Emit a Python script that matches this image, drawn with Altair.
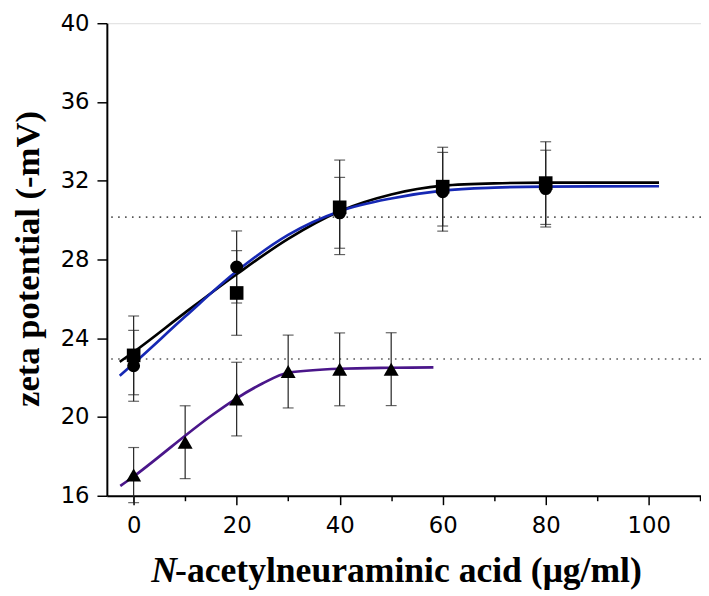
import altair as alt
import pandas as pd

# ---- data ----
conc_main = [0, 20, 40, 60, 80]
zeta_square = [23.13, 26.3, 30.65, 31.7, 31.88]
err_square = [2.0, 2.15, 2.4, 2.0, 2.1]
zeta_circle = [22.6, 27.62, 30.37, 31.44, 31.6]
err_circle = [1.8, 1.83, 1.8, 2.0, 1.95]

conc_tri = [0, 10, 20, 30, 40, 50]
zeta_tri = [17.05, 18.72, 20.91, 22.31, 22.42, 22.43]
err_tri = [1.4, 1.85, 1.87, 1.85, 1.85, 1.85]

fit_x_black = [-2.7, 0, 10, 20, 30, 40, 50, 60, 70, 80, 102]
fit_black = [22.8, 23.3, 25.3, 27.25, 29.05, 30.45, 31.3, 31.75, 31.87, 31.9, 31.9]

fit_x_blue = [-2.7, 0, 10, 20, 30, 40, 50, 60, 70, 80, 102]
fit_blue = [22.1, 22.72, 25.1, 27.4, 29.25, 30.45, 31.1, 31.5, 31.65, 31.7, 31.72]

fit_x_purple = [-2.6, 0, 5, 10, 15, 20, 25, 30, 40, 50, 58.2]
fit_purple = [16.5, 16.98, 18.0, 19.05, 20.05, 20.95, 21.7, 22.25, 22.45, 22.5, 22.52]

ref_levels = [30.15, 22.95]

x_ticks = [0, 10, 20, 30, 40, 50, 60, 70, 80, 90, 100, 110]
y_ticks = [16, 18, 20, 22, 24, 26, 28, 30, 32, 34, 36, 38, 40]

y_title = "zeta potential (-mV)"
x_title_italic = ["N"]
x_title_rest = ["-acetylneuraminic acid (\u03bcg/ml)"]

# ---- tables ----
def points(xs, ys, errs):
    return pd.DataFrame({
        "x": xs, "y": ys,
        "lo": [v - e for v, e in zip(ys, errs)],
        "hi": [v + e for v, e in zip(ys, errs)],
    })

sq = points(conc_main, zeta_square, err_square)
ci = points(conc_main, zeta_circle, err_circle)
tr = points(conc_tri, zeta_tri, err_tri)
allpts = pd.concat([sq, ci, tr], ignore_index=True)

black = pd.DataFrame({"x": fit_x_black, "y": fit_black})
blue = pd.DataFrame({"x": fit_x_blue, "y": fit_blue})
purple = pd.DataFrame({"x": fit_x_purple, "y": fit_purple})
refs = pd.DataFrame({"y": ref_levels})

# ---- scales / axes ----
xs = alt.Scale(domain=[-5.2, 110.15], nice=False, zero=False)
ys = alt.Scale(domain=[16, 40], nice=False, zero=False)

x_axis = alt.Axis(
    values=x_ticks,
    labelExpr="datum.value % 20 === 0 && datum.value <= 100 ? datum.label : ''",
    tickSize={"condition": {"test": "datum.value % 20 === 0", "value": 9}, "value": 5},
    title=None, grid=False,
    labelFont="DejaVu Sans", labelFontSize=23, labelColor="black",
    labelPadding=10, labelFlush=False, labelOverlap=False,
    domainColor="black", domainWidth=2, tickColor="black", tickWidth=1.5,
)
y_axis = alt.Axis(
    values=y_ticks,
    labelExpr="datum.value % 4 === 0 ? datum.label : ''",
    tickSize={"condition": {"test": "datum.value % 4 === 0", "value": 10}, "value": 5},
    title=y_title, titleFont="Liberation Serif", titleFontWeight="bold",
    titleFontSize=35, titleColor="black", titleAngle=270,
    titleX=-80, titleY=238, titleAlign="center", titleBaseline="middle",
    grid=False,
    labelFont="DejaVu Sans", labelFontSize=23, labelColor="black",
    labelPadding=8, labelFlush=False, labelOverlap=False,
    domainColor="black", domainWidth=2, tickColor="black", tickWidth=1.5,
)

X = alt.X("x:Q", scale=xs, axis=x_axis)
Y = alt.Y("y:Q", scale=ys, axis=y_axis)

dotted = alt.Chart(refs).mark_rule(
    color="#555555", strokeWidth=1.6, strokeDash=[1.6, 5.4]
).encode(y=Y)

bars = alt.Chart(allpts).mark_rule(color="#222222", strokeWidth=1.2).encode(
    x=X, y=alt.Y("lo:Q", scale=ys), y2="hi:Q"
)
caps_lo = alt.Chart(allpts).mark_tick(
    color="#222222", thickness=1.2, size=11, orient="horizontal"
).encode(x=X, y=alt.Y("lo:Q", scale=ys))
caps_hi = alt.Chart(allpts).mark_tick(
    color="#222222", thickness=1.2, size=11, orient="horizontal"
).encode(x=X, y=alt.Y("hi:Q", scale=ys))

def curve(df, color):
    return alt.Chart(df).mark_line(
        color=color, strokeWidth=2.7, interpolate="monotone"
    ).encode(x=X, y=Y)

c_black = curve(black, "#000000")
c_blue = curve(blue, "#1628b4")
c_purple = curve(purple, "#4a168a")

def markers(df, shape, size):
    return alt.Chart(df).mark_point(
        shape=shape, size=size, filled=True, color="black", opacity=1
    ).encode(x=X, y=Y)

m_sq = markers(sq, "square", 190)
m_ci = markers(ci, "circle", 170)
m_tr = markers(tr, "triangle-up", 230)

t_italic = alt.Chart(pd.DataFrame({"t": x_title_italic})).mark_text(
    font="Liberation Serif", fontSize=36, fontWeight="bold", fontStyle="italic",
    align="left", baseline="alphabetic", color="black"
).encode(text="t:N", x=alt.value(45), y=alt.value(565))
t_rest = alt.Chart(pd.DataFrame({"t": x_title_rest})).mark_text(
    font="Liberation Serif", fontSize=36, fontWeight="bold",
    align="left", baseline="alphabetic", color="black"
).encode(text="t:N", x=alt.value(69), y=alt.value(565))

chart = alt.layer(
    dotted, bars, caps_lo, caps_hi, c_black, c_blue, c_purple,
    m_sq, m_ci, m_tr, t_italic, t_rest
).properties(
    width=601, height=478,
    autosize=alt.AutoSizeParams(type="none"),
    padding={"left": 100, "top": 12, "right": 0, "bottom": 98},
).configure_view(stroke=None).configure(background="white")

chart.save("out.html", embed_options={"renderer": "svg", "actions": False})
